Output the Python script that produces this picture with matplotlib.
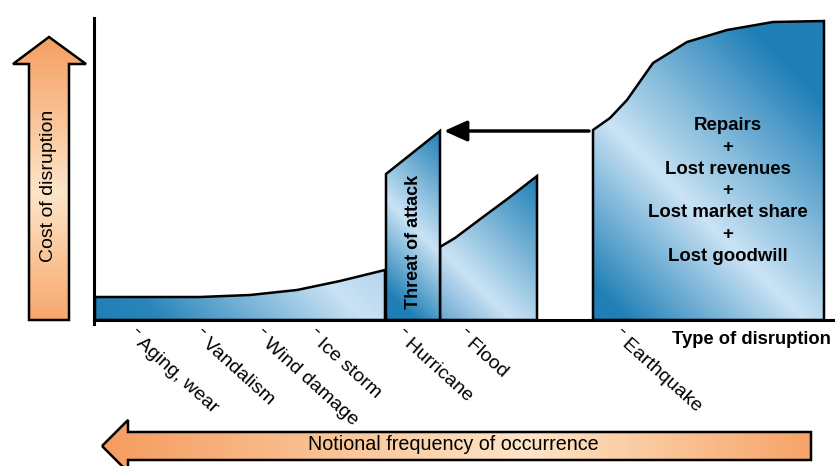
import numpy as np
import matplotlib
matplotlib.use("Agg")
import matplotlib.pyplot as plt
from matplotlib.colors import LinearSegmentedColormap
from matplotlib.patches import Polygon

plt.rcParams['font.family'] = ['Liberation Sans', 'DejaVu Sans']

# Disruption types along the frequency axis (most frequent on the left)
disruptions = ["Aging, wear", "Vandalism", "Wind damage", "Ice storm",
               "Hurricane", "Flood", "Earthquake"]
disruption_pos = [42, 108, 168, 222, 310, 372, 527]

# Cost profiles of each region: position along the axis and cost height
routine_x = [1, 56, 106, 156, 203, 246, 291]
routine_cost = [23, 23, 23, 25, 30, 39, 50]
attack_x = [292, 346]
attack_cost = [146, 189]
flood_x = [346, 361, 389, 416, 443]
flood_cost = [73, 82, 103, 123, 144]
quake_x = [499, 516, 533, 559, 593, 633, 679, 730]
quake_cost = [190, 202, 220, 257, 278, 290, 298, 299]

quake_items = ["Repairs", "Lost revenues", "Lost market share", "Lost goodwill"]

DARK = "#1f7fb6"
LIGHT = "#cae3f5"
ORANGE = "#f59f62"
PALE = "#fde5c8"

W, H = 835, 466
fig = plt.figure(figsize=(W / 100, H / 100), dpi=100)

# Decoration layer in figure pixel units (axis arrows and captions)
deco = fig.add_axes([0, 0, 1, 1], zorder=0)
deco.set_xlim(0, W)
deco.set_ylim(H, 0)
deco.axis("off")


def gradient_poly(ax, verts, stops, direction, zorder=1, lw=1.8):
    poly = Polygon(verts, closed=True, facecolor="none", edgecolor="black",
                   lw=lw, joinstyle="miter", zorder=zorder + 1)
    ax.add_patch(poly)
    xs = np.array([v[0] for v in verts])
    ys = np.array([v[1] for v in verts])
    x0, x1, y0, y1 = xs.min(), xs.max(), ys.min(), ys.max()
    gx = np.linspace(x0, x1, 400)
    gy = np.linspace(y0, y1, 400)
    X, Y = np.meshgrid(gx, gy)
    t = direction(X, Y, x0, x1, y0, y1)
    cmap = LinearSegmentedColormap.from_list("g", stops)
    im = ax.imshow(t, extent=(x0, x1, y0, y1), origin="lower", cmap=cmap,
                   vmin=0, vmax=1, aspect="auto", interpolation="bilinear",
                   zorder=zorder)
    im.set_clip_path(poly)
    return poly


# Vertical "cost" arrow
up_arrow = [(49, 37), (86, 64), (69, 64), (69, 320), (29, 320), (29, 64), (13, 64)]
gradient_poly(deco, up_arrow, [(0, ORANGE), (0.55, PALE), (1, "#f7a86c")],
              lambda X, Y, x0, x1, y0, y1: (Y - y0) / (y1 - y0))
deco.text(49, 186, "Cost of disruption", rotation=90, ha="center", va="center",
          fontsize=14, zorder=5)

# Horizontal "frequency" arrow
left_arrow = [(102, 446), (128, 420), (128, 432), (811, 432), (811, 460),
              (128, 460), (128, 472)]
gradient_poly(deco, left_arrow, [(0, "#f59c5e"), (0.6, PALE), (1, "#f7a468")],
              lambda X, Y, x0, x1, y0, y1: (X - x0) / (x1 - x0))
deco.text(453, 445, "Notional frequency of occurrence", ha="center",
          va="center", fontsize=14.2, zorder=5)

deco.text(831, 339, "Type of disruption", ha="right", va="center",
          fontsize=13.2, fontweight="bold", zorder=5)
deco.set_xlim(0, W)
deco.set_ylim(H, 0)

# Main chart axes
ax = fig.add_axes([94 / W, (H - 324) / H, (W - 94) / W, (324 - 18) / H], zorder=2)
ax.patch.set_alpha(0)


def diag(X, Y, x0, x1, y0, y1):
    return ((X - x0) + (Y - y0)) / ((x1 - x0) + (y1 - y0))


def region(xs, cost):
    return [(xs[0], 0)] + list(zip(xs, cost)) + [(xs[-1], 0)]


gradient_poly(ax, region(routine_x, routine_cost),
              [(0, DARK), (0.2, "#2a86ba"), (0.8, LIGHT), (1, "#b4d4ec")], diag)
gradient_poly(ax, region(flood_x, flood_cost),
              [(0, "#6aa5d0"), (0.3, LIGHT), (1, DARK)], diag)
gradient_poly(ax, region(quake_x, quake_cost),
              [(0, DARK), (0.06, DARK), (0.4, LIGHT), (0.85, DARK), (1, DARK)], diag)
gradient_poly(ax, region(attack_x, attack_cost),
              [(0, DARK), (0.12, DARK), (0.5, LIGHT), (1, DARK)], diag, zorder=4)

ax.text(np.mean(attack_x), 78, "Threat of attack", rotation=90, ha="center",
        va="center", fontsize=13, fontweight="bold", zorder=6)
ax.text(634, 129, "\n+\n".join(quake_items), ha="center", va="center",
        fontsize=13.4, fontweight="bold", linespacing=1.36, zorder=6)

# Escalation arrow from earthquake cost back to threat of attack
ax.annotate("", xy=(attack_x[1] + 4, attack_cost[1]),
            xytext=(quake_x[0] - 4, attack_cost[1]),
            arrowprops=dict(arrowstyle="-|>,head_length=1.0,head_width=0.45",
                            mutation_scale=14, lw=2.5, color="black",
                            shrinkA=0, shrinkB=0), zorder=6)

ax.set_xlim(0, W - 94)
ax.set_ylim(-4, 302)
for s in ("top", "right"):
    ax.spines[s].set_visible(False)
ax.spines["bottom"].set_position(("data", 0))
ax.spines["bottom"].set_linewidth(2.2)
ax.spines["left"].set_linewidth(2.2)
ax.spines["bottom"].set_zorder(7)
ax.set_yticks([])
ax.set_xticks(disruption_pos)
ax.set_xticklabels(["\u02c9 " + d for d in disruptions], rotation=-42,
                   ha="left", va="top", rotation_mode="anchor", fontsize=14)
ax.tick_params(axis="x", length=0, pad=5)

fig.savefig("out.png", dpi=100)
